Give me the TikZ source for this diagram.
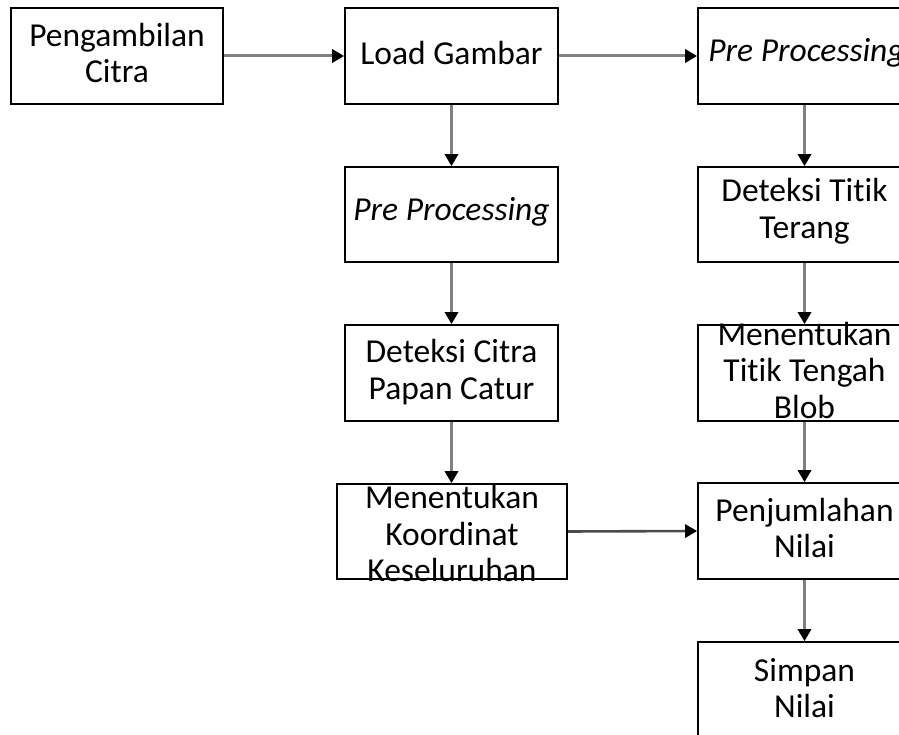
\documentclass[tikz,border=0pt]{standalone}
\usepackage{fontspec}
\setmainfont[Ligatures=NoCommon]{Carlito}
\usetikzlibrary{arrows.meta}
\begin{document}
\begin{tikzpicture}[x=1pt,y=-1pt,
  box/.style={draw=black,line width=1.6pt,fill=white,rectangle,inner sep=0pt,
    minimum width=213pt,minimum height=96pt},
  txt/.style={align=center,inner sep=0pt,font=\fontsize{33.5}{36.5}\selectfont,text=black},
  conn/.style={draw=gray,line width=3pt,-{Triangle[length=12pt,width=13pt,color=black]}},
  conndark/.style={draw=black!70,line width=2.6pt,-{Triangle[length=12pt,width=13pt,color=black]}}]
\useasboundingbox (0,0) rectangle (899,735);
\clip (0,0) rectangle (899,735);
\fill[white] (0,0) rectangle (899,735);
\node[box,minimum width=212pt,label={[txt,yshift=3pt]center:Pengambilan\\Citra}] (n1) at (117,56) {};
\node[box,label={[txt,yshift=3pt]center:Load Gambar}] (n2) at (451.5,56) {};
\node[box,label={[txt,yshift=3pt,xshift=2pt]center:\itshape Pre Processing}] (n3) at (804.5,56) {};
\node[box,minimum height=95pt,label={[txt,yshift=3pt]center:\itshape Pre Processing}] (n4) at (451.5,214.5) {};
\node[box,label={[txt,yshift=1pt]center:Deteksi Citra\\Papan Catur}] (n5) at (451.5,373) {};
\node[box,minimum width=230pt,minimum height=95pt,label={[txt,yshift=-2pt]center:Menentukan\\Koordinat\\Keseluruhan}] (n6) at (452,531.5) {};
\node[box,minimum height=95pt,label={[txt,yshift=3pt]center:Deteksi Titik\\Terang}] (n7) at (804.5,214.5) {};
\node[box,label={[txt,yshift=3pt]center:Menentukan\\Titik Tengah\\Blob}] (n8) at (804.5,373) {};
\node[box,label={[txt,yshift=3pt]center:Penjumlahan\\Nilai}] (n9) at (804.5,531) {};
\node[box,label={[txt,yshift=2pt]center:Simpan\\Nilai}] (n10) at (804.5,690) {};
\draw[conn] (n1.east) -- (n2.west);
\draw[conn] (n2.east) -- (n3.west);
\draw[conn] (n2.south) -- (n4.north);
\draw[conn] (n4.south) -- (n5.north);
\draw[conn] (n5.south) -- (n5.south |- n6.north);
\draw[conn] (n3.south) -- (n7.north);
\draw[conn] (n7.south) -- (n8.north);
\draw[conn] (n8.south) -- (n9.north);
\draw[conn] (n9.south) -- (n10.north);
\draw[conndark] (n6.east) -- (n9.west);
\end{tikzpicture}
\end{document}
